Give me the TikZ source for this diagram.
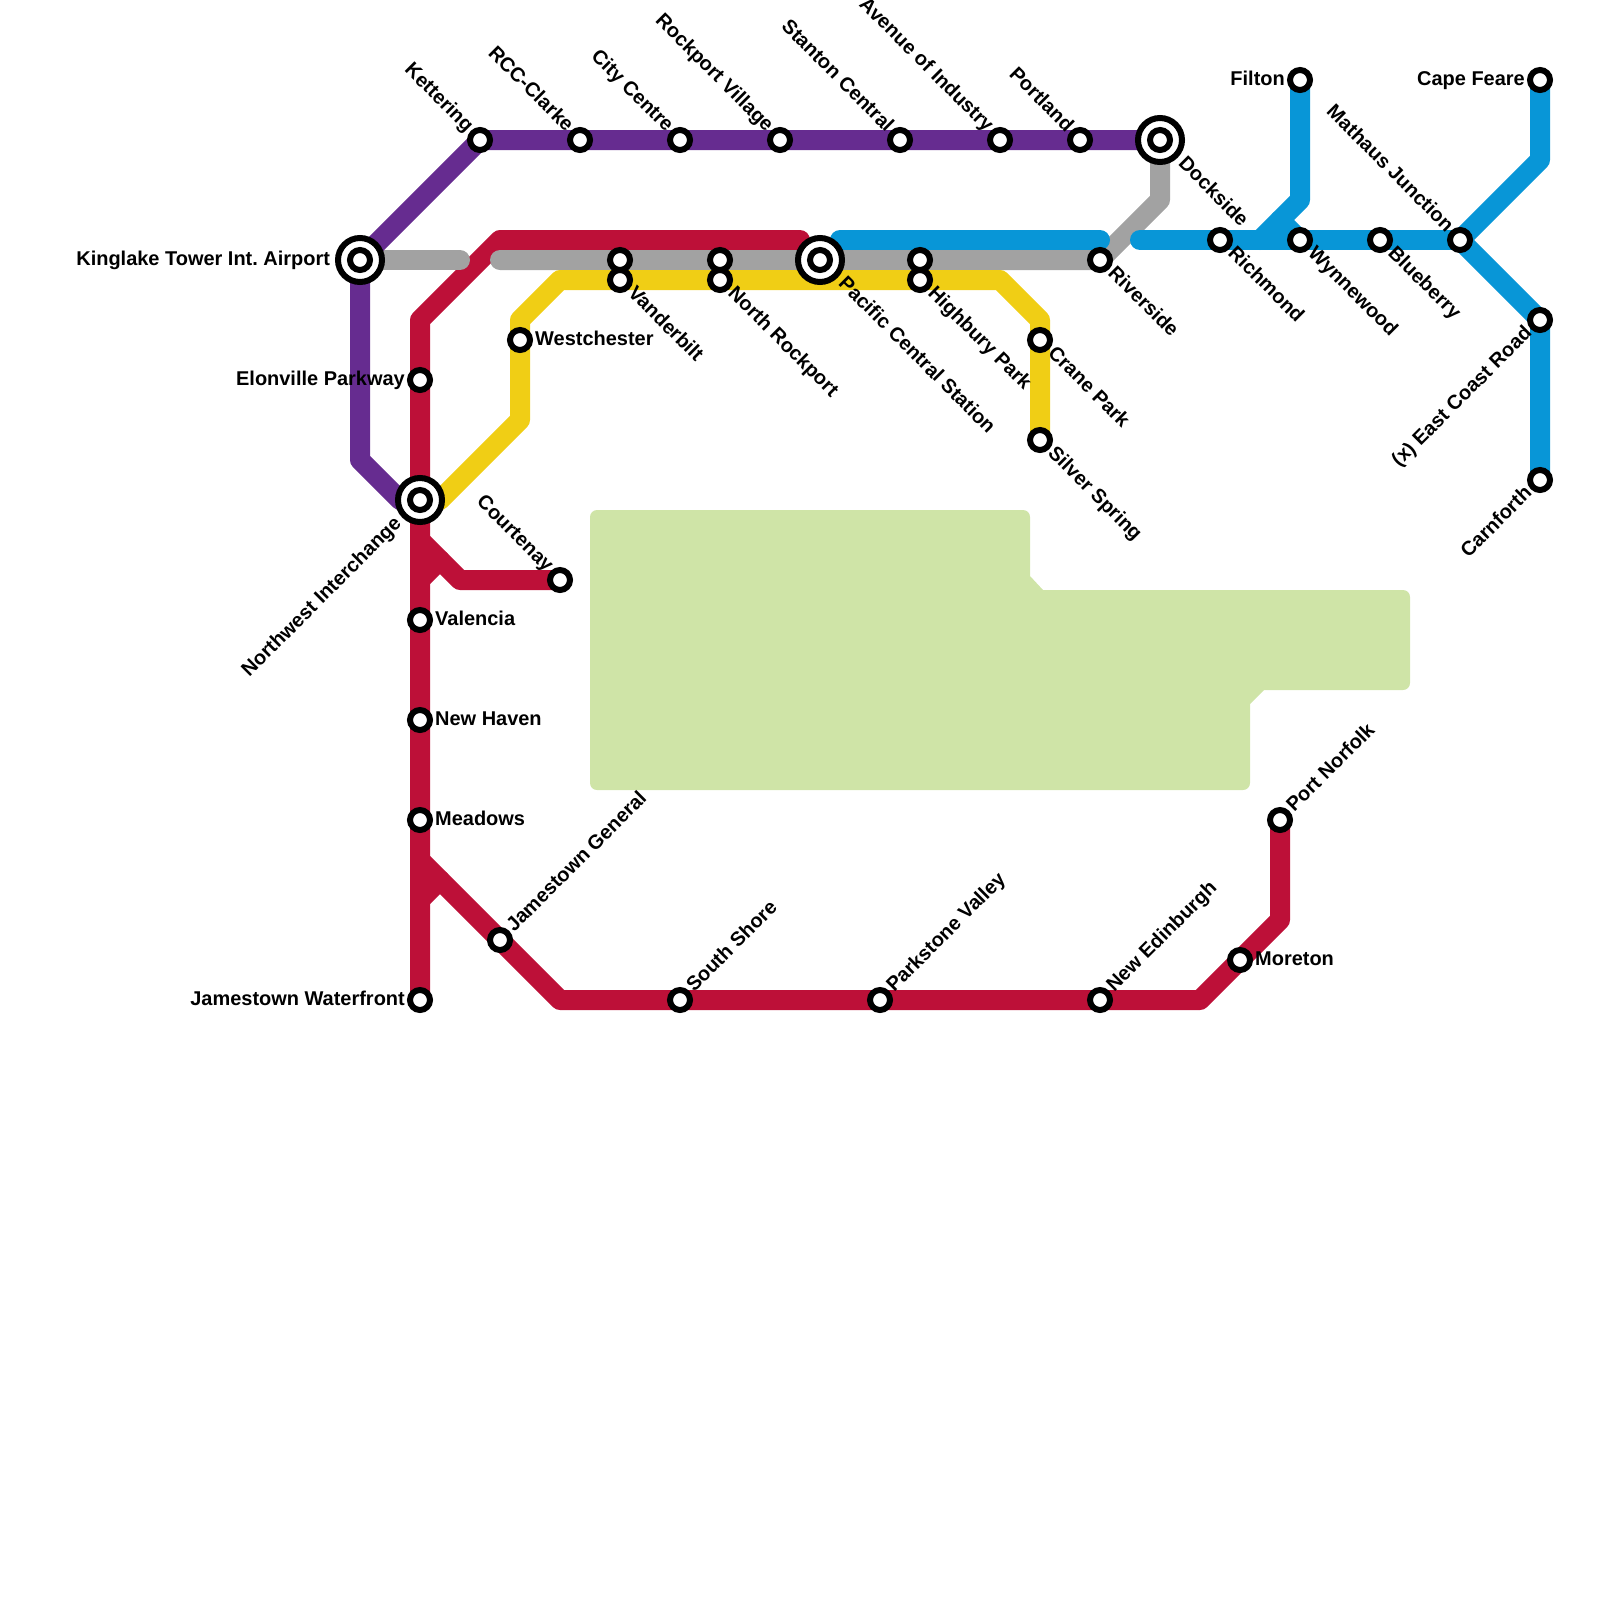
\documentclass[tikz,border=0pt]{standalone}
\usepackage{fontspec}
\setmainfont{Liberation Sans}
\usetikzlibrary{backgrounds}
\definecolor{linepurple}{HTML}{662C90}
\definecolor{linered}{HTML}{BD1038}
\definecolor{linegray}{HTML}{A2A2A2}
\definecolor{lineyellow}{HTML}{F0CE15}
\definecolor{lineblue}{HTML}{0896D7}
\definecolor{parkgreen}{HTML}{CFE4A7}
\frenchspacing
\tikzset{
  tube/.style={line width=0.5cm,line cap=round,line join=round},
  stn/.style={circle,draw=black,fill=white,line width=0.15cm,minimum size=0.5cm,inner sep=0pt,outer sep=0pt},
  stnring/.style={circle,draw=black,fill=white,line width=0.15cm,minimum size=1.1cm,inner sep=0pt,outer sep=0pt},
  lbl/.style={font=\fontsize{14.2}{16}\selectfont\bfseries,inner sep=0pt,outer sep=0pt},
  lblr/.style={lbl,anchor=base west,xshift=#1,yshift=-0.125cm},
  lbll/.style={lbl,anchor=base east,xshift=-#1,yshift=-0.125cm},
  lble/.style={lblr=0.38cm},
  lblw/.style={lbll=0.38cm},
  lblse/.style={rotate=-45,lblr=0.38cm},
  lblne/.style={rotate=45,lblr=0.38cm},
  lblnw/.style={rotate=-45,lbll=0.38cm},
  lblsw/.style={rotate=45,lbll=0.38cm},
  % the same, clear of an interchange ring
  lblwx/.style={lbll=0.75cm},
  lblsex/.style={rotate=-45,lblr=0.75cm},
  lblswx/.style={rotate=45,lbll=0.75cm},
}

\begin{document}
\begin{tikzpicture}[x=0.5cm,y=-0.5cm]
  \useasboundingbox (0,0) rectangle (80,80);

  \foreach \n/\x/\y in {kinglake/18/13,northwest/21/25,pacific/41/13,dockside/58/7}
    \node[stnring] (\n-ring) at (\x,\y) {};

  \foreach \n/\x/\y/\d/\t in {
    kinglake/18/13/wx/Kinglake Tower Int. Airport,
    kettering/24/7/nw/Kettering,
    rccclarke/29/7/nw/RCC-Clarke,
    citycentre/34/7/nw/City Centre,
    rockport/39/7/nw/Rockport Village,
    stanton/45/7/nw/Stanton Central,
    avenue/50/7/nw/Avenue of Industry,
    portland/54/7/nw/Portland,
    dockside/58/7/sex/Dockside,
    filton/65/4/w/Filton,
    capefeare/77/4/w/Cape Feare,
    mathaus/73/12/nw/Mathaus Junction,
    blueberry/69/12/se/Blueberry,
    wynnewood/65/12/se/Wynnewood,
    richmond/61/12/se/Richmond,
    riverside/55/13/se/Riverside,
    eastcoast/77/16/sw/{(x) East Coast Road},
    carnforth/77/24/sw/Carnforth,
    elonville/21/19/w/Elonville Parkway,
    northwest/21/25/swx/Northwest Interchange,
    westchester/26/17/e/Westchester,
    vanderbilt/31/14/se/Vanderbilt,
    northrock/36/14/se/North Rockport,
    pacific/41/13/sex/Pacific Central Station,
    highbury/46/14/se/Highbury Park,
    crane/52/17/se/Crane Park,
    silver/52/22/se/Silver Spring,
    courtenay/28/29/nw/Courtenay,
    valencia/21/31/e/Valencia,
    newhaven/21/36/e/New Haven,
    meadows/21/41/e/Meadows,
    waterfront/21/50/w/Jamestown Waterfront,
    general/25/47/ne/Jamestown General,
    southshore/34/50/ne/South Shore,
    parkstone/44/50/ne/Parkstone Valley,
    edinburgh/55/50/ne/New Edinburgh,
    moreton/62/48/e/Moreton,
    norfolk/64/41/ne/Port Norfolk}
  {
    \node[stn] (\n) at (\x,\y) {};
    \node[lbl\d] (\n-text) at (\n.center) {\t};
  }
  \foreach \n/\x/\y in {vanderup/31/13,northrockup/36/13,highburyup/46/13}
    \node[stn] (\n) at (\x,\y) {};

  % bends and the short joins
  \foreach \n/\x/\y in {
    pa/18/23,pb/20/25,
    ra/40/12,rb/25/12,rc/21/16,rd/21/27,re/23/29,rf/21/29,rg/22/28,
    rh/21/43,ri/28/50,rj/60/50,rk/64/46,rl/21/45,rm/22/44,
    ga/23/13,gb/25/13,gc/58/10,
    ya/22/25,yb/26/21,yc/26/16,yd/28/14,ye/50/14,yf/52/16,
    ba/42/12,bb/55/12,bc/57/12,bd/65/10,be/63/12,bf/64/11,bg/77/8}
    \coordinate (\n) at (\x,\y);

  \begin{pgfonlayer}{background}
    \fill[parkgreen] (29.5,32) [rounded corners=0.175cm] -- (29.5,25.5) -- (51.5,25.5)
      [sharp corners] -- (51.5,28.8) -- (52.15,29.5)
      [rounded corners=0.175cm] -- (70.5,29.5) -- (70.5,34.5)
      [sharp corners] -- (63.2,34.5) -- (62.5,35.2)
      [rounded corners=0.175cm] -- (62.5,39.5) -- (29.5,39.5) -- cycle;

    \draw[tube,linered] (ra) -- (rb) -- (rc) -- (waterfront.center);
    \draw[tube,linered] (rd) -- (re) -- (courtenay.center);
    \draw[tube,linered] (rf) -- (rg);
    \draw[tube,linered] (rh) -- (ri) -- (rj) -- (rk) -- (norfolk.center);
    \draw[tube,linered] (rl) -- (rm);
    \draw[tube,linegray] (kinglake.center) -- (ga);
    \draw[tube,linegray] (gb) -- (riverside.center) -- (gc) -- (dockside.center);
    \draw[tube,lineyellow] (northwest.center) -- (ya) -- (yb) -- (yc) -- (yd) -- (ye) -- (yf) -- (silver.center);
    \draw[tube,linepurple] (dockside.center) -- (kettering.center) -- (kinglake.center) -- (pa) -- (pb) -- (northwest.center);
    \draw[tube,lineblue] (ba) -- (bb);
    \draw[tube,lineblue] (bc) -- (mathaus.center);
    \draw[tube,lineblue] (filton.center) -- (bd) -- (be);
    \draw[tube,lineblue] (bf) -- (wynnewood.center);
    \draw[tube,lineblue] (capefeare.center) -- (bg) -- (mathaus.center) -- (eastcoast.center) -- (carnforth.center);
  \end{pgfonlayer}
\end{tikzpicture}
\end{document}
